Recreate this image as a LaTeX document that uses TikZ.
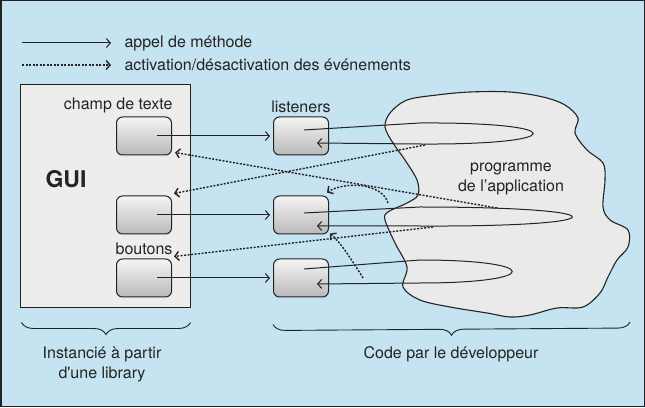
\documentclass[tikz,border=0pt]{standalone}
\usepackage{fontspec}
\setmainfont{TeX Gyre Heros}
\usepackage{xcolor}
\usepackage{tikz}
\usetikzlibrary{positioning,arrows.meta,decorations.pathreplacing}
\definecolor{panelblue}{RGB}{197,227,241}
\definecolor{guigray}{RGB}{237,237,235}
\definecolor{cloudgray}{RGB}{234,234,234}
\definecolor{inkgray}{RGB}{35,35,35}

\begin{document}
\begin{tikzpicture}[
    x=1pt, y=1pt,
    node distance=24pt,
    widget/.style={rectangle, rounded corners=6pt, draw=inkgray, line width=1pt,
                   top color=gray!8, bottom color=gray!55,
                   minimum width=55pt, minimum height=38pt},
    call/.style={-{Straight Barb[length=4pt,width=9pt]}, line width=1pt, color=inkgray},
    toggle/.style={call, line width=1.4pt, dash pattern=on 2pt off 1.5pt},
    lbl/.style={font=\fontsize{16}{20}\selectfont, color=inkgray},
    brc/.style={draw=inkgray, line width=0.9pt, decorate,
                decoration={brace, mirror, amplitude=12pt}}
]
    \useasboundingbox (0,0) rectangle (645,407);
    \fill[panelblue] (0,0) rectangle (645,407);
    \draw[inkgray, line width=1.5pt] (0.75,0.75) rectangle (644.25,406.25);

    % legend
    \node[lbl, anchor=west] (leg1) at (121,364) {appel de méthode};
    \node[lbl, anchor=west] (leg2) at (121,342) {activation/désactivation des événements};
    \coordinate (k1) at (22,364);
    \coordinate (k2) at (22,342);
    \draw[call] (k1) -- ([xshift=-10pt]leg1.west);
    \draw[toggle] (k2) -- ([xshift=-10pt]leg2.west);

    % library side
    \node[draw=inkgray, line width=1pt, fill=guigray,
          minimum width=170pt, minimum height=223pt] (gui) at (105,210.5) {};
    \node[font=\fontsize{23}{26}\selectfont\bfseries, color=inkgray] (guilbl) at (66,228) {GUI};
    \node[widget] (g1) at (144,271) {};
    \node[widget, below=40pt of g1] (g2) {};
    \node[widget, below=of g2] (g3) {};
    \node[lbl, anchor=south east] (champ) at ([xshift=4pt]g1.north east) {champ de texte};
    \node[lbl, above=0pt of g3] (boutons) {boutons};

    % application program
    \draw[inkgray, line width=1.1pt, fill=cloudgray] plot[smooth cycle, tension=0.55] coordinates {
        (407,307) (437,312) (470,315) (510,315) (543,310) (565,302) (578,289)
        (575,274) (587,257) (603,244) (605,227) (603,200) (610,187) (628,177)
        (628,160) (617,147) (608,130) (600,114) (583,100) (557,99) (530,92)
        (510,90) (487,94) (450,100) (420,107) (403,120) (407,140) (395,164)
        (385,187) (388,195) (407,204) (418,212) (417,227) (405,247) (393,264)
        (385,280) (390,294)};
    \node[lbl, align=center] (prog) at (511,228) {programme\\de l’application};

    % listeners
    \node[widget, right=101pt of g1] (l1) {};
    \node[widget, right=101pt of g2] (l2) {};
    \node[widget, right=101pt of g3] (l3) {};
    \node[lbl, above=0pt of l1] (listen) {listeners};

    \draw[call] ([xshift=13pt]g1.center) -- ([xshift=-3pt]l1.west);
    \draw[call] ([xshift=13pt]g2.center) -- ([xshift=-3pt]l2.west);
    \draw[call] ([xshift=13pt]g3.center) -- ([xshift=-3pt]l3.west);

    \draw[call] ([xshift=3pt,yshift=6pt]l1.center) -- (420,284)
        .. controls (571,285) and (571,262) .. (420,263) -- ([xshift=16pt,yshift=-7pt]l1.center);
    \draw[call] ([xshift=3pt,yshift=2pt]l2.center) -- (420,200)
        .. controls (623,200) and (623,180) .. (420,181) -- ([xshift=16pt,yshift=-11pt]l2.center);
    \draw[call] ([xshift=3pt,yshift=9pt]l3.center) -- (420,147)
        .. controls (543,147) and (543,124) .. (420,124) -- ([xshift=16pt,yshift=-6pt]l3.center);

    % event switching
    \coordinate (s1) at (497,199);
    \coordinate (s2) at (425,262);
    \coordinate (s3) at (433,180);
    \coordinate (s4) at (388,204);
    \coordinate (s5) at (363,129);
    \draw[toggle] (s1) -- ([shift={(3pt,3pt)}]g1.south east);
    \draw[toggle] (s2) -- ([shift={(2pt,2pt)}]g2.north east);
    \draw[toggle] (s3) -- ([shift={(2pt,2pt)}]g3.north east);
    \draw[toggle] (s4) .. controls (382,224) and (345,226) .. ([shift={(-2pt,3pt)}]l2.north east);
    \draw[toggle] (s5) .. controls (350,150) and (340,165) .. ([shift={(1pt,1pt)}]l2.south east);

    % braces
    \coordinate (codeend) at (630,85);
    \draw[brc] ([xshift=2pt,yshift=-14pt]gui.south west) -- ([yshift=-14pt]gui.south east);
    \draw[brc] ([yshift=-27pt]l3.south west) -- (codeend);
    \node[lbl, align=center, anchor=north] (inst) at (102,64) {Instancié à partir\\d\textquotesingle une library};
    \node[lbl, anchor=north] (dev) at (451,64) {Code par le développeur};
\end{tikzpicture}
\end{document}
